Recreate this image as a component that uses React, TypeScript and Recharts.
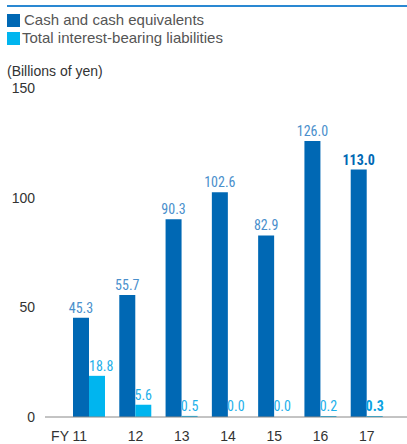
import React from "react";
import { BarChart, Bar, XAxis, YAxis, LabelList, Rectangle } from "recharts";

const categories = ["FY 11", "12", "13", "14", "15", "16", "17"];
const cashValues = [45.3, 55.7, 90.3, 102.6, 82.9, 126.0, 113.0];
const debtValues = [18.8, 5.6, 0.5, 0.0, 0.0, 0.2, 0.3];
const yTicks = [0, 50, 100, 150];

const data = categories.map((c, i) => ({ name: c, cash: cashValues[i], debt: debtValues[i] }));

const DARK = "#0068b4";
const LIGHT = "#00b5ef";
const NARROW = "'Liberation Sans Narrow', 'Roboto Condensed', 'DejaVu Sans Condensed', sans-serif";
const SANS = "'Liberation Sans', Arial, sans-serif";

const makeLabel = (color: string, boldColor: string, shiftWide: boolean) => (props: any) => {
  const { x, y, width, value, index } = props;
  const last = index === categories.length - 1;
  const wide = shiftWide && Number(value) >= 10;
  return (
    <text
      x={wide ? x : x + width / 2}
      y={y - 5}
      textAnchor={wide ? "start" : "middle"}
      fontFamily={NARROW}
      fontSize={14}
      fontWeight={last ? "bold" : "normal"}
      fill={last ? boldColor : color}
    >
      {Number(value).toFixed(1)}
    </text>
  );
};

const DebtShape = (props: any) => {
  const { payload } = props;
  if (!payload || payload.debt === 0) return <g />;
  return <Rectangle {...props} />;
};

const XTick = (props: any) => {
  const { x, y, payload, index } = props;
  const first = index === 0;
  return (
    <text
      x={first ? x - 2 : x}
      y={y + 16}
      textAnchor={first ? "end" : "middle"}
      fontFamily={SANS}
      fontSize={14}
      fill="#333"
    >
      {payload.value}
    </text>
  );
};

export default function App() {
  return (
    <div style={{ position: "absolute", left: 0, top: 0, width: 407, height: 444, background: "#fff" }}>
      <div style={{ position: "absolute", left: 7, top: 5, width: 400, height: 2, background: "#2a88d2" }} />
      <div style={{ position: "absolute", left: 7, top: 14, width: 13, height: 13, background: DARK }} />
      <div style={{ position: "absolute", left: 24, top: 11, fontFamily: SANS, fontSize: 15, color: "#555", lineHeight: "18px" }}>
        Cash and cash equivalents
      </div>
      <div style={{ position: "absolute", left: 7, top: 32, width: 13, height: 13, background: LIGHT }} />
      <div style={{ position: "absolute", left: 22, top: 29, fontFamily: SANS, fontSize: 15, color: "#555", lineHeight: "18px" }}>
        Total interest-bearing liabilities
      </div>
      <div style={{ position: "absolute", left: 7, top: 63, fontFamily: SANS, fontSize: 14, color: "#333", lineHeight: "16px" }}>
        (Billions of yen)
      </div>
      <BarChart
        width={407}
        height={444}
        data={data}
        margin={{ top: 88.5, right: 0, bottom: 0, left: 0 }}
        barGap={0}
        barSize={16}
        style={{ position: "absolute", left: 0, top: 0 }}
      >
        <XAxis
          dataKey="name"
          height={27}
          padding={{ left: 21, right: 17 }}
          tickLine={false}
          axisLine={{ stroke: "#888", strokeWidth: 1 }}
          tick={<XTick />}
          interval={0}
        />
        <YAxis
          width={45}
          domain={[0, 150]}
          ticks={yTicks}
          axisLine={false}
          tickLine={false}
          tickSize={0}
          tickMargin={10}
          tick={{ fontFamily: SANS, fontSize: 14, fill: "#333" }}
        />
        <Bar dataKey="cash" fill={DARK} isAnimationActive={false}>
          <LabelList dataKey="cash" content={makeLabel("#4a8fcc", DARK, false)} />
        </Bar>
        <Bar dataKey="debt" fill={LIGHT} isAnimationActive={false} minPointSize={1} shape={<DebtShape />}>
          <LabelList dataKey="debt" content={makeLabel("#1eb0ea", "#0aa2e2", true)} />
        </Bar>
      </BarChart>
    </div>
  );
}
